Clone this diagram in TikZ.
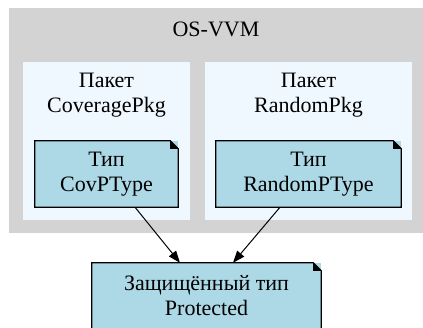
\documentclass[tikz,border=0pt]{standalone}
\usepackage{fontspec}
\setmainfont{Liberation Serif}
\usetikzlibrary{arrows.meta}
\definecolor{clgrey}{HTML}{D3D3D3}
\definecolor{clalice}{HTML}{F0F8FF}
\definecolor{clblue}{HTML}{ADD8E6}
\tikzset{
  cluster/.style={fill=#1, draw=none},
  lbl/.style={font=\fontsize{22}{25}\selectfont, align=center, inner sep=0pt},
  notebox/.style={fill=clblue, draw=none, inner sep=0pt, minimum height=66pt,
    font=\fontsize{22}{25}\selectfont, align=center},
  noteline/.style={draw=black, line width=1.2pt, line join=miter},
  edge/.style={draw=black, line width=1pt, -{Triangle[length=12pt,width=9pt]}}
}
\newcommand{\noteoutline}[1]{%
  \draw[noteline] (#1.north west) -- ([xshift=-8pt]#1.north east) -- ([yshift=-8pt]#1.north east) -- (#1.south east) -- (#1.south west) -- cycle;
  \fill[black] ([xshift=-8pt]#1.north east) -- ([xshift=-8pt,yshift=-8pt]#1.north east) -- ([yshift=-8pt]#1.north east) -- cycle;
}
\begin{document}
\begin{tikzpicture}[x=1pt,y=-1pt]
\useasboundingbox (0,0) rectangle (423,328);
\fill[white] (0,0) rectangle (423,328);
% clusters
\path[cluster=clgrey] (9,8) rectangle (423,233);
\path[cluster=clalice] (23,62) rectangle (190,220);
\path[cluster=clalice] (205,62) rectangle (412,220);
\node[lbl] (osvvm) at (216,29) {OS-VVM};
\node[lbl] (pkgcov) at (106.5,95) {Пакет\\CoveragePkg};
\node[lbl] (pkgrnd) at (308.5,95) {Пакет\\RandomPkg};
% nodes
\node[notebox, minimum width=143pt] (cov) at (106.5,174) {Тип\\CovPType};
\node[notebox, minimum width=185pt] (rnd) at (308.5,174) {Тип\\RandomPType};
\node[notebox, minimum width=229pt] (prot) at (206.5,296) {Защищённый тип\\Protected};
\noteoutline{cov}
\noteoutline{rnd}
\noteoutline{prot}
% edges
\draw[edge] ([xshift=28.5pt]cov.south) -- ([xshift=-26.5pt]prot.north);
\draw[edge] ([xshift=-28.5pt]rnd.south) -- ([xshift=26.5pt]prot.north);
\end{tikzpicture}
\end{document}
